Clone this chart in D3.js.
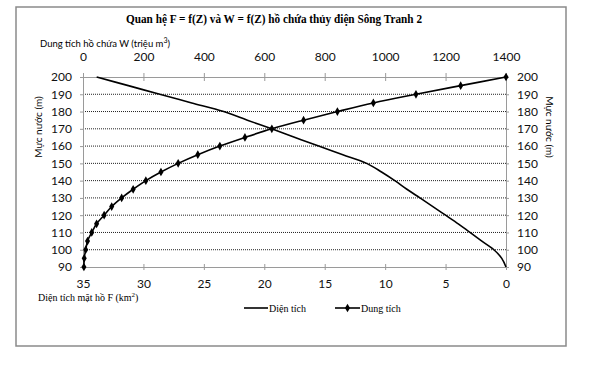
<!DOCTYPE html>
<html>
<head>
<meta charset="utf-8">
<script src="https://cdn.jsdelivr.net/npm/d3@7"></script>
<style>
body { margin: 0; background: #fff; }
</style>
</head>
<body>
<div id="chart"></div>
<script>
// data
var mucNuoc = [90, 95, 100, 105, 110, 115, 120, 125, 130, 135, 140, 145, 150, 155, 160, 165, 170, 175, 180, 185, 190, 195, 200];
var dienTich = [0, 0.35, 1.0, 2.0, 2.98, 3.95, 5.0, 6.05, 7.12, 8.2, 9.2, 10.3, 11.53, 13.5, 15.5, 17.45, 19.39, 21.4, 23.36, 26.0, 28.65, 31.25, 33.87];
var dungTich = [3, 4, 9, 15, 29, 45, 70, 95, 128, 166, 208, 258, 315, 380, 453, 536, 625, 730, 842, 961, 1102, 1250, 1400];
var wTicks = [0, 200, 400, 600, 800, 1000, 1200, 1400];
var fTicks = [35, 30, 25, 20, 15, 10, 5, 0];
var zTicks = [90, 100, 110, 120, 130, 140, 150, 160, 170, 180, 190, 200];

var svg = d3.select('#chart').append('svg').attr("width", 589).attr("height", 368);

// plot box (note: "top" is taken by window.top)
var pLeft = 83, pRight = 506, pTop = 77, pBottom = 267;

var y_scale = d3.scaleLinear().domain([90, 200]).range([pBottom, pTop]);
var xW = d3.scaleLinear().domain([0, 1400]).range([pLeft, pRight]);
var xF = d3.scaleLinear().domain([35, 0]).range([pLeft, pRight]);

var data = mucNuoc.map(function (z, i) { return { z: z, f: dienTich[i], w: dungTich[i] }; });

// outer frame
svg.append("rect")
    .attr("x", 16).attr("y", 7).attr("width", 550).attr("height", 339)
    .style("fill", "none").style("stroke", "#8a8a8a").style("stroke-width", 1.5);

// title
svg.append("text")
    .attr("x", 274).attr("y", 23)
    .attr("text-anchor", "middle")
    .attr("textLength", 296)
    .attr("lengthAdjust", "spacingAndGlyphs")
    .style("font-family", "Liberation Serif")
    .style("font-weight", "bold")
    .style("font-size", "13px")
    .text("Quan hệ F = f(Z) và W = f(Z) hồ chứa thủy điện Sông Tranh 2");

// gridlines
svg.append("g").selectAll("line")
    .data(zTicks.filter(function (d) { return d > 90 && d < 200; }))
    .enter().append("line")
    .attr("x1", pLeft).attr("x2", pRight)
    .attr("y1", function (d) { return y_scale(d); })
    .attr("y2", function (d) { return y_scale(d); })
    .style("stroke", "#222").style("stroke-width", 1)
    .style("stroke-dasharray", "1,1");

// axes
var axisFont = "Lato";
var fmt = d3.format("d");
var topAxis = svg.append("g").attr("transform", "translate(0," + pTop + ")")
    .call(d3.axisTop(xW).tickValues(wTicks).tickFormat(fmt).tickSize(4).tickPadding(12));
var bottomAxis = svg.append("g").attr("transform", "translate(0," + pBottom + ")")
    .call(d3.axisBottom(xF).tickValues(fTicks).tickFormat(fmt).tickSize(3).tickPadding(9));
var leftAxis = svg.append("g").attr("transform", "translate(" + pLeft + ",0)")
    .call(d3.axisLeft(y_scale).tickValues(zTicks).tickFormat(fmt).tickSize(3).tickPadding(8));
var rightAxis = svg.append("g").attr("transform", "translate(" + pRight + ",0)")
    .call(d3.axisRight(y_scale).tickValues(zTicks).tickFormat(fmt).tickSize(3).tickPadding(8));

[topAxis, bottomAxis, leftAxis, rightAxis].forEach(function (a) {
    a.select(".domain").style("stroke", "#9a9a9a");
    a.selectAll(".tick line").style("stroke", "#9a9a9a");
    a.selectAll("text").style("font-family", axisFont).style("font-size", "12px").style("fill", "#111");
});
// top ticks cross the axis line
topAxis.selectAll(".tick line").attr("y2", 4).attr("y1", -4);
bottomAxis.selectAll(".tick line").attr("y1", -3);

// axis titles
svg.append("text")
    .attr("x", 40).attr("y", 47)
    .style("font-family", axisFont).style("font-size", "9.5px")
    .html("Dung tích hồ chứa W (triệu m<tspan dy='-4' font-size='7px'>3</tspan><tspan dy='4'>)</tspan>");

svg.append("text")
    .attr("transform", "translate(42,127) rotate(-90)")
    .attr("text-anchor", "middle")
    .style("font-family", axisFont).style("font-size", "10px")
    .text("Mực nước (m)");

svg.append("text")
    .attr("transform", "translate(546,127) rotate(90)")
    .attr("text-anchor", "middle")
    .style("font-family", axisFont).style("font-size", "10px")
    .text("Mực nước (m)");

svg.append("text")
    .attr("x", 38).attr("y", 301)
    .style("font-family", "Liberation Serif").style("font-size", "10px")
    .html("Diện tích mặt hồ F (km<tspan dy='-4' font-size='7px'>2</tspan><tspan dy='4'>)</tspan>");

// lines
var lineF = d3.line()
    .x(function (d) { return xF(d.f); })
    .y(function (d) { return y_scale(d.z); })
    .curve(d3.curveCatmullRom);
var lineW = d3.line()
    .x(function (d) { return xW(d.w); })
    .y(function (d) { return y_scale(d.z); })
    .curve(d3.curveCatmullRom);

svg.append("path").datum(data).attr("d", lineF)
    .style("fill", "none").style("stroke", "#000").style("stroke-width", 1.6);
svg.append("path").datum(data).attr("d", lineW)
    .style("fill", "none").style("stroke", "#000").style("stroke-width", 1.6);

var diamond = d3.symbol().type(d3.symbolDiamond).size(22);
svg.append("g").selectAll("path")
    .data(data)
    .enter().append("path")
    .attr("d", diamond)
    .attr("transform", function (d) { return "translate(" + xW(d.w) + "," + y_scale(d.z) + ")"; })
    .style("fill", "#000");

// legend
var legend = svg.append("g").style("font-family", "Liberation Serif").style("font-size", "10px");
legend.append("line").attr("x1", 244).attr("x2", 268).attr("y1", 308).attr("y2", 308)
    .style("stroke", "#000").style("stroke-width", 1.6);
legend.append("text").attr("x", 269).attr("y", 311.5).text("Diện tích");
legend.append("line").attr("x1", 335).attr("x2", 360).attr("y1", 308).attr("y2", 308)
    .style("stroke", "#000").style("stroke-width", 1.6);
legend.append("path").attr("d", diamond).attr("transform", "translate(347.5,308)").style("fill", "#000");
legend.append("text").attr("x", 361).attr("y", 311.5).text("Dung tích");
</script>
</body>
</html>
